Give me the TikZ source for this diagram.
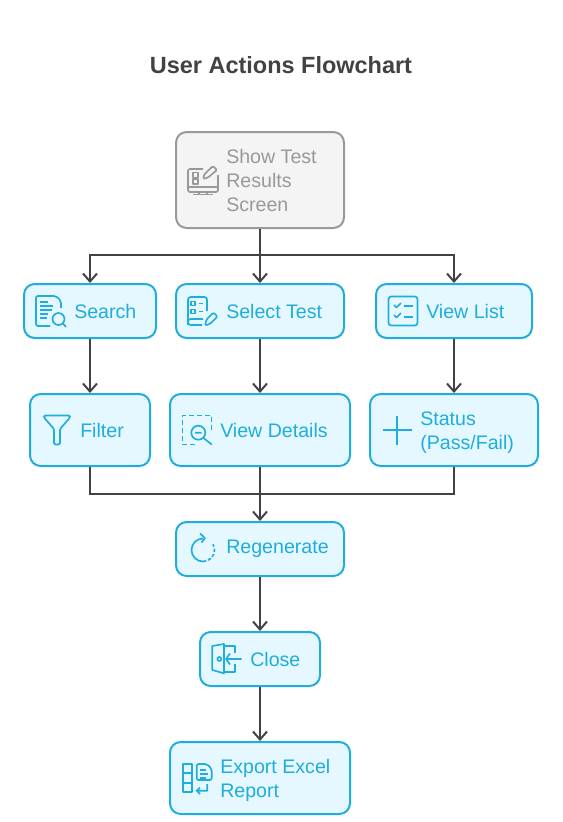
\documentclass[tikz,border=0pt]{standalone}
\usepackage{fontspec}
\setmainfont{Liberation Sans}
\usetikzlibrary{arrows.meta, positioning}
\definecolor{actblue}{HTML}{1EADDC}
\definecolor{actfill}{HTML}{E6F8FF}
\definecolor{mutegrey}{HTML}{999999}
\definecolor{mutefill}{HTML}{F4F4F4}
\definecolor{inkgrey}{HTML}{424242}
\tikzset{
  box/.style={rectangle,draw=actblue,fill=actfill,line width=1.5pt,rounded corners=8pt,inner sep=0pt},
  startbox/.style={box,draw=mutegrey,fill=mutefill},
  lbl/.style={anchor=west,inner sep=0pt,align=left,text=actblue,font=\fontsize{14.7pt}{18pt}\selectfont},
  startlbl/.style={lbl,text=mutegrey},
  line/.style={draw=inkgrey,line width=1.5pt,-{Straight Barb[length=6pt,width=10.5pt,line width=1.5pt]}},
  trunk/.style={draw=inkgrey,line width=1.5pt},
  icon/.style={color=actblue,line width=1.25pt,line join=round},
  screenicon/.pic={
    \draw[rounded corners=1.5pt] (0,-11) -- (-15,-11) -- (-15,12) -- (15,12) -- (15,-5);
    \draw (-15,7) -- (15,7) (-4,12) -- (-4,14) (4,12) -- (4,14) (-10,14.5) -- (10,14.5);
    \draw (-10,-7.5) rectangle (-5,-2.5) (-10,-1) rectangle (-5,4);
    \draw[rounded corners=1pt] (0,-1) -- (1.5,-6) -- (10,-14) -- (14,-10) -- (5,-2.5) -- cycle;
  },
  searchicon/.pic={
    \draw[rounded corners=1.5pt] (-1,15) -- (-15,15) -- (-15,-15) -- (5,-15) -- (10,-10) -- (10,-3);
    \draw (-11,-9) -- (-3,-9) (-11,-5) -- (2,-5) (-11,-1) -- (1,-1) (-11,3) -- (-3,3) (-11,7) -- (-4,7);
    \draw (7.5,8) circle[radius=6];
    \draw (12,12.5) -- (15,16);
  },
  selecticon/.pic={
    \draw[rounded corners=2pt] (-1,14) -- (-15,14) -- (-15,-14) -- (4,-14) -- (4,0);
    \draw[rounded corners=2pt] (-15,14) -- (-15,8) -- (0,8);
    \draw (-12,-9.5) rectangle (-8,-5.5) (-12,-1.5) rectangle (-8,2.5);
    \draw (-4,-7.5) -- (0,-7.5) (-4,0.5) -- (0,0.5);
    \draw[rounded corners=1pt] (2,14.5) -- (3.5,8.5) -- (10.5,1.5) -- (14.5,5.5) -- (7.5,12.5) -- cycle;
  },
  listicon/.pic={
    \draw[rounded corners=2pt] (-14.5,-14.5) rectangle (14.5,14.5);
    \draw (-9,-6) -- (-6.5,-3.5) -- (-2,-8) (-9,4) -- (-6.5,6.5) -- (-2,2);
    \draw (1,-5) -- (9.7,-5) (1,6) -- (9.7,6);
  },
  filtericon/.pic={
    \draw[rounded corners=1pt] (-13,-14.5) -- (13,-14.5) -- (13,-12.5) -- (3,-1) -- (3,14.5) -- (-3,14.5) -- (-3,-1) -- (-13,-12.5) -- cycle;
  },
  detailicon/.pic={
    \draw[dash pattern=on 3.5pt off 2.5pt] (14.5,0) -- (14.5,-14.5) -- (-14.5,-14.5) -- (-14.5,14.5) -- (-1,14.5);
    \draw (1.3,2.7) circle[radius=7];
    \draw (-2,2.7) -- (4.5,2.7) (6.5,8) -- (14.7,14.5);
  },
  plusicon/.pic={
    \draw (-14.5,0) -- (14.5,0) (0,-14.5) -- (0,14.5);
  },
  regenicon/.pic={
    \draw (0,-10.5) arc[start angle=-90,end angle=-270,radius=11.5];
    \draw[dash pattern=on 2.5pt off 1.5pt] (0,12.5) arc[start angle=90,end angle=-30,radius=11.5];
    \draw (-3,-15.5) -- (2,-10.8) -- (-1.5,-6.5);
  },
  closeicon/.pic={
    \draw (-14.7,-13) -- (-3,-15) -- (-3,14.3) -- (-14.7,11) -- cycle;
    \draw (-7.7,0) circle[radius=2];
    \draw (-3,-13) -- (7.7,-13) -- (7.7,-6) (7.7,5) -- (7.7,13) -- (-3,13);
    \draw (14.7,0) -- (-1,0) (3,-5.5) -- (-1,0) -- (3,5.5);
  },
  exporticon/.pic={
    \draw (-14.3,-14) rectangle (-4.7,14.3) (-14.3,-4.7) -- (-4.7,-4.7) (-14.3,4.7) -- (-4.7,4.7);
    \draw[rounded corners=1.5pt] (-0.3,-14) -- (10,-14) -- (14.7,-9) -- (14.7,2) -- (-0.3,2) -- cycle;
    \draw (3,-8) -- (9,-8) (3,-4) -- (11,-4) (3,0) -- (9,0);
    \draw (10.3,6) -- (10.3,12.7) -- (-0.3,12.7) (3,9.5) -- (-0.3,12.7) -- (3,16);
  }
}
\begin{document}
\begin{tikzpicture}[x=0.75pt,y=-0.75pt]
\useasboundingbox (0,0) rectangle (562,822);
\node[anchor=center,inner sep=0pt,text=inkgrey,font=\fontsize{17.6pt}{20pt}\selectfont\bfseries] (title) at (281,65) {User Actions Flowchart};
\node[startbox,minimum width=126pt,minimum height=72pt] (show) at (260,180) {};
\node[box,minimum width=99pt,minimum height=40.5pt] (search) at (90,311) {};
\node[box,minimum width=126pt,minimum height=40.5pt] (select) at (260,311) {};
\node[box,minimum width=117pt,minimum height=40.5pt] (list) at (454,311) {};
\node[box,minimum width=90pt,minimum height=54pt] (filter) at (90,430) {};
\node[box,minimum width=135pt,minimum height=54pt] (details) at (260,430) {};
\node[box,minimum width=126pt,minimum height=54pt] (status) at (454,430) {};
\node[box,minimum width=126pt,minimum height=40.5pt] (regen) at (260,549) {};
\node[box,minimum width=90pt,minimum height=40.5pt] (close) at (260,659) {};
\node[box,minimum width=135pt,minimum height=54pt] (export) at (260,778) {};
\node[startlbl] (showtxt) at (226,180) {Show Test\\Results\\Screen};
\node[lbl] (searchtxt) at (74,311) {Search};
\node[lbl] (selecttxt) at (226,311) {Select Test};
\node[lbl] (listtxt) at (426,311) {View List};
\node[lbl] (filtertxt) at (80,430) {Filter};
\node[lbl] (detailstxt) at (220,430) {View Details};
\node[lbl] (statustxt) at (420,432.5) {Status\\(Pass/Fail)};
\node[lbl] (regentxt) at (226,549) {Regenerate};
\node[lbl] (closetxt) at (250,659) {Close};
\node[lbl] (exporttxt) at (220,780) {Export Excel\\Report};
\pic[icon,color=mutegrey] at (203,180) {screenicon};
\pic[icon] at (51,311) {searchicon};
\pic[icon] at (203,311) {selecticon};
\pic[icon] at (403,311) {listicon};
\pic[icon] at (57,430) {filtericon};
\pic[icon] at (197,430) {detailicon};
\pic[icon] at (397,430) {plusicon};
\pic[icon] at (203,549) {regenicon};
\pic[icon] at (227,659) {closeicon};
\pic[icon] at (197,778) {exporticon};
\coordinate (split) at (260,255);
\coordinate (merge) at (260,494);
\draw[trunk] (show) -- (split);
\draw[line] (split) -| (search);
\draw[line] (split) -- (select);
\draw[line] (split) -| (list);
\draw[line] (search) -- (filter);
\draw[line] (select) -- (details);
\draw[line] (list) -- (status);
\draw[trunk] (filter) |- (merge);
\draw[trunk] (details) -- (merge);
\draw[trunk] (status) |- (merge);
\draw[line] (merge) -- (regen);
\draw[line] (regen) -- (close);
\draw[line] (close) -- (export);
\end{tikzpicture}
\end{document}
